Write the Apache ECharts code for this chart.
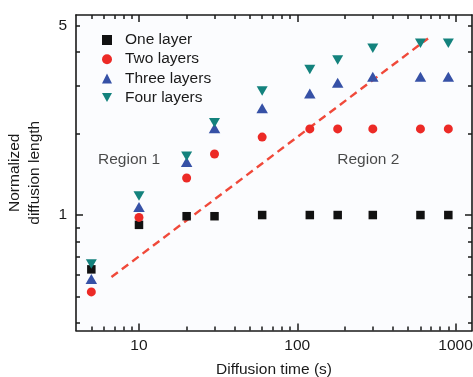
<!DOCTYPE html>
<html><head><meta charset="utf-8">
<script src="https://cdn.jsdelivr.net/npm/echarts@6/dist/echarts.min.js"></script>
<style>html,body{margin:0;padding:0;background:#fff}#c{width:473px;height:377px}</style>
</head><body><div id="c"></div>
<script>
// ---- data ----
const times = [5, 10, 20, 30, 60, 120, 180, 300, 600, 900];
const oneLayer = [0.63, 0.92, 0.99, 0.99, 1.0, 1.0, 1.0, 1.0, 1.0, 1.0];
const twoLayers = [0.52, 0.98, 1.37, 1.68, 1.94, 2.08, 2.08, 2.08, 2.08, 2.08];
const threeLayers = [0.58, 1.07, 1.57, 2.09, 2.48, 2.81, 3.08, 3.24, 3.24, 3.24];
const fourLayers = [0.66, 1.175, 1.65, 2.19, 2.87, 3.45, 3.74, 4.13, 4.31, 4.31];
const seriesNames = ['One layer', 'Two layers', 'Three layers', 'Four layers'];
const trendX = [6.7, 670];
const trendY = [0.59, 4.49];
const regionLabels = ['Region 1', 'Region 2'];
const regionX = [8.65, 281];
const regionY = [1.6, 1.6];
const xMajorTicks = [10, 100, 1000];
const xMinorTicks = [5, 6, 7, 8, 9, 20, 30, 40, 50, 60, 70, 80, 90, 200, 300, 400, 500, 600, 700, 800, 900];
const xTickLabels = [10, 100, 1000];
const yMajorTicks = [1];
const yMinorTicks = [0.4, 0.5, 0.6, 0.7, 0.8, 0.9, 2, 3, 4, 5];
const yTickLabels = [1, 5];
const xRange = [4, 1270];
const yRange = [0.3746, 5.48];
const xTitle = 'Diffusion time (s)';
const yTitle = 'Normalized\ndiffusion length';

// ---- styling ----
const FONT = 'Liberation Sans, Arial, sans-serif';
const INK = '#1a1a1a';
const colors = ['#111111', '#ec2a26', '#3651a6', '#13827d'];
const symbols = ['rect', 'circle', 'triangle', 'path://M0,0L10,0L5,9Z'];
const sizes = [8.5, 9, [11.5, 10], [11, 9.5]];

function axis(dim, position, ticks, tickLen, labels, showLine, range, extra) {
  return Object.assign({
    type: 'log', logBase: 10, position: position,
    min: range[0], max: range[1],
    axisLine: {show: showLine, onZero: false, lineStyle: {color: INK, width: 1.6}},
    axisTick: {show: true, inside: true, length: tickLen, customValues: ticks, lineStyle: {color: INK, width: 1.5}},
    axisLabel: labels ? {show: true, customValues: labels, color: INK, fontSize: 15.5, fontFamily: FONT,
      margin: dim === 'x' ? 7 : 9, formatter: v => String(Math.round(v))} : {show: false},
    splitLine: {show: false}, minorTick: {show: false}, minorSplitLine: {show: false}
  }, extra || {});
}

const xAxes = [
  axis('x', 'bottom', xMajorTicks, 7, xTickLabels, true, xRange, {
    name: xTitle, nameLocation: 'middle', nameGap: 31,
    nameTextStyle: {fontSize: 15.5, color: INK, fontFamily: FONT}
  }),
  axis('x', 'bottom', xMinorTicks, 4, null, false, xRange),
  axis('x', 'top', xMajorTicks, 7, null, true, xRange),
  axis('x', 'top', xMinorTicks, 4, null, false, xRange)
];
const yAxes = [
  axis('y', 'left', yMajorTicks, 7, yTickLabels, true, yRange, {
    name: yTitle, nameLocation: 'middle', nameGap: 31, nameRotate: 90,
    nameTextStyle: {fontSize: 15.5, color: INK, fontFamily: FONT, lineHeight: 20, align: 'center'}
  }),
  axis('y', 'left', yMinorTicks, 4, null, false, yRange),
  axis('y', 'right', yMajorTicks, 7, null, true, yRange),
  axis('y', 'right', yMinorTicks, 4, null, false, yRange)
];

const valueSets = [oneLayer, twoLayers, threeLayers, fourLayers];
const scatterSeries = seriesNames.map((name, i) => ({
  name: name, type: 'scatter', xAxisIndex: 0, yAxisIndex: 0,
  symbol: symbols[i], symbolSize: sizes[i], symbolKeepAspect: false,
  itemStyle: {color: colors[i], opacity: 1},
  data: times.map((t, k) => [t, valueSets[i][k]]),
  z: 3
}));

const chart = echarts.init(document.getElementById('c'), null, {renderer: 'canvas'});
chart.setOption({
  animation: false,
  backgroundColor: '#ffffff',
  grid: {left: 76, top: 15, width: 396, height: 315.5, show: true, backgroundColor: '#fbfcfe', borderWidth: 0,
    containLabel: false, outerBoundsMode: 'none'},
  legend: {
    orient: 'vertical', left: 102, top: 32, padding: 0, itemWidth: 10, itemHeight: 10, itemGap: 3.2,
    textStyle: {fontSize: 15.5, color: INK, fontFamily: FONT, padding: [0, 0, 0, 8]},
    data: seriesNames.map((n, i) => ({name: n, icon: symbols[i]}))
  },
  xAxis: xAxes,
  yAxis: yAxes,
  series: [
    {
      name: 'trend', type: 'line', xAxisIndex: 0, yAxisIndex: 0,
      data: trendX.map((x, k) => [x, trendY[k]]),
      symbol: 'none', silent: true,
      lineStyle: {color: '#f0493a', width: 2.4, type: [8, 5]}, z: 2
    },
    {
      name: 'regions', type: 'scatter', xAxisIndex: 0, yAxisIndex: 0,
      symbolSize: 0, silent: true,
      data: regionX.map((x, k) => ({value: [x, regionY[k]], label: {formatter: regionLabels[k]}})),
      label: {show: true, position: 'inside', color: INK, fontSize: 15.5, fontFamily: FONT}
    }
  ].concat(scatterSeries)
});
</script></body></html>
